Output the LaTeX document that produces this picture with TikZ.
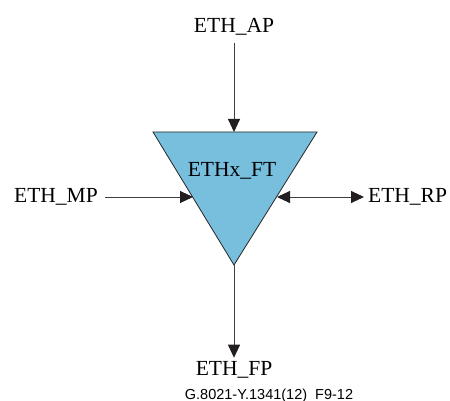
\documentclass[tikz,border=0pt]{standalone}
\usepackage{fontspec}
\setmainfont{Liberation Serif}
\setsansfont{Liberation Sans}
\usetikzlibrary{arrows.meta}
\definecolor{ftblue}{RGB}{120,191,222}
\definecolor{tipgray}{RGB}{35,31,32}

\begin{document}
\begin{tikzpicture}[x=1pt, y=-1pt,
  every node/.style={inner sep=0pt, font=\fontsize{21.5}{24}\selectfont},
  tip/.style={-{Triangle[length=13pt,width=12pt,color=tipgray]}},
  link/.style={draw=black!75, line width=0.9pt}]
\useasboundingbox (0,0) rectangle (450,401);
% triangle corners and connection points
\coordinate (tl) at (153,132);
\coordinate (tr) at (317,132);
\coordinate (bot) at (234,265);
\coordinate (top) at (234,132);
\coordinate (lin) at (193,197);
\coordinate (rin) at (277,197);
\draw[fill=ftblue, draw=black!85, line width=0.8pt] (tl) -- (tr) -- (bot) -- cycle;
\node[anchor=base] (ft) at (232,176) {ETHx\_FT};
% points
\node[anchor=base] (ap) at (234,33) {ETH\_AP};
\node[anchor=base east] (mp) at (98,202) {ETH\_MP};
\node[anchor=base west] (rp) at (368,203) {ETH\_RP};
\node[anchor=base] (fp) at (234,375) {ETH\_FP};
\node[anchor=base, font=\sffamily\fontsize{14.5}{16}\selectfont] (cap) at (269,399) {G.8021-Y.1341(12)\ \ F9-12};
% connectors
\draw[link, tip] (ap.south) ++(0,7) coordinate (apend) -- (top);
\draw[link, tip] ([xshift=7pt]mp.east |- lin) coordinate (mpend) -- (lin);
\draw[link, {Triangle[length=13pt,width=12pt,color=tipgray]}-{Triangle[length=13pt,width=12pt,color=tipgray]}] (rin) -- ([xshift=-4pt]rp.west |- rin);
\draw[link, tip] (bot) -- ([yshift=3pt]fp.north);
\end{tikzpicture}
\end{document}
